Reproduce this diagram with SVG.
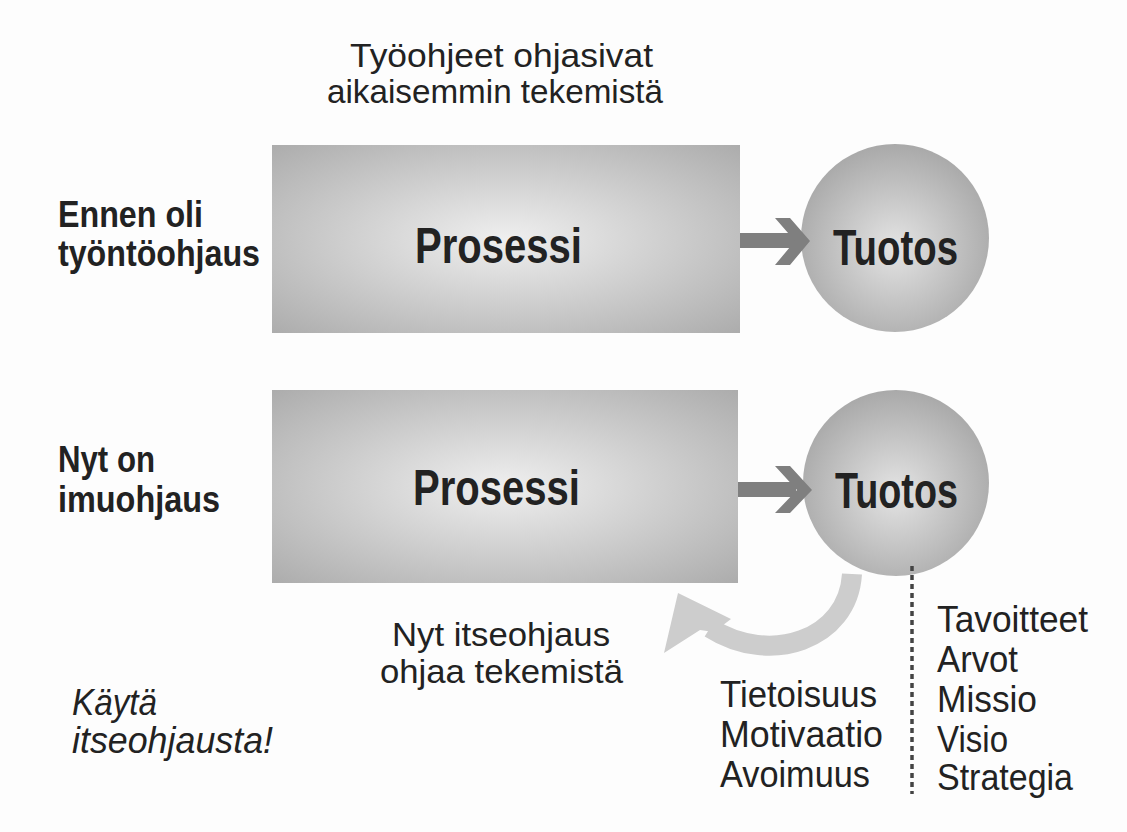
<svg xmlns="http://www.w3.org/2000/svg" width="1127" height="832" viewBox="0 0 1127 832">
<style>
.t{font-family:"Liberation Sans Narrow","Liberation Sans",Arial,sans-serif;fill:#222;}
.reg{font-size:37px;}
.reg2{font-size:34px;}
.reg3{font-size:33px;}
.bold{font-size:37px;font-weight:bold;}
.big{font-size:50px;font-weight:bold;}
.it{font-size:36px;font-style:italic;}
.conn{fill:#7f7f7f;}
.loop{fill:#cdcdcd;}
</style>
<defs>
<radialGradient id="gRect2" cx="0.5" cy="0.5" r="0.75">
<stop offset="0" stop-color="#efefef"/>
<stop offset="1" stop-color="#a8a8a8"/>
</radialGradient>
<radialGradient id="gCirc" cx="0.5" cy="0.55" r="0.55">
<stop offset="0" stop-color="#e4e4e4"/>
<stop offset="1" stop-color="#a9a9a9"/>
</radialGradient>
</defs>
<rect x="0" y="0" width="1127" height="832" fill="#fdfdfd"/>

<g id="title">
<text class="t reg2" x="350" y="67" textLength="303" lengthAdjust="spacingAndGlyphs">Työohjeet ohjasivat</text>
<text class="t reg2" x="327" y="103" textLength="336" lengthAdjust="spacingAndGlyphs">aikaisemmin tekemistä</text>
</g>

<g id="label-ennen">
<text class="t bold" x="58" y="227" textLength="145" lengthAdjust="spacingAndGlyphs">Ennen oli</text>
<text class="t bold" x="58" y="266" textLength="202" lengthAdjust="spacingAndGlyphs">työntöohjaus</text>
</g>

<g id="label-nyt">
<text class="t bold" x="58" y="472" textLength="97" lengthAdjust="spacingAndGlyphs">Nyt on</text>
<text class="t bold" x="58" y="512" textLength="162" lengthAdjust="spacingAndGlyphs">imuohjaus</text>
</g>

<g id="process-top">
<rect x="272" y="145" width="468" height="188" fill="url(#gRect2)"/>
<text class="t big" x="415" y="263" textLength="167" lengthAdjust="spacingAndGlyphs">Prosessi</text>
</g>

<g id="output-top">
<circle cx="895" cy="238" r="94" fill="url(#gCirc)"/>
<text class="t big" x="833" y="265" textLength="125" lengthAdjust="spacingAndGlyphs">Tuotos</text>
</g>

<g id="process-bottom">
<rect x="272" y="390" width="466" height="193" fill="url(#gRect2)"/>
<text class="t big" x="413" y="505" textLength="167" lengthAdjust="spacingAndGlyphs">Prosessi</text>
</g>

<g id="output-bottom">
<circle cx="896" cy="483" r="93" fill="url(#gCirc)"/>
<text class="t big" x="835" y="508" textLength="123" lengthAdjust="spacingAndGlyphs">Tuotos</text>
</g>

<g id="connectors">
<rect class="conn" x="740" y="233" width="56" height="15"/>
<polygon class="conn" points="775,218 790,218 810,241 790,265 775,265 795,241"/>
<rect class="conn" x="738" y="482" width="58" height="15"/>
<polygon class="conn" points="775,466 790,466 812,490 790,513 775,513 797,490"/>
<path d="M 852 574 C 848 640 770 666 710 628" fill="none" stroke="#cdcdcd" stroke-width="20"/>
<polygon class="loop" points="678,593 731,619 714,632 700,630 664,653"/>
<line x1="912" y1="566" x2="912" y2="794" stroke="#444" stroke-width="3.5" stroke-dasharray="5 4"/>
</g>

<g id="note-self">
<text class="t reg3" x="392" y="646" textLength="218" lengthAdjust="spacingAndGlyphs">Nyt itseohjaus</text>
<text class="t reg3" x="380" y="683" textLength="243" lengthAdjust="spacingAndGlyphs">ohjaa tekemistä</text>
</g>

<g id="list-left">
<text class="t reg" x="720" y="707" textLength="157" lengthAdjust="spacingAndGlyphs">Tietoisuus</text>
<text class="t reg" x="720" y="747" textLength="163" lengthAdjust="spacingAndGlyphs">Motivaatio</text>
<text class="t reg" x="720" y="787" textLength="150" lengthAdjust="spacingAndGlyphs">Avoimuus</text>
</g>

<g id="list-right">
<text class="t reg" x="937" y="632" textLength="151" lengthAdjust="spacingAndGlyphs">Tavoitteet</text>
<text class="t reg" x="937" y="672" textLength="81" lengthAdjust="spacingAndGlyphs">Arvot</text>
<text class="t reg" x="937" y="712" textLength="100" lengthAdjust="spacingAndGlyphs">Missio</text>
<text class="t reg" x="937" y="752" textLength="71" lengthAdjust="spacingAndGlyphs">Visio</text>
<text class="t reg" x="937" y="790" textLength="136" lengthAdjust="spacingAndGlyphs">Strategia</text>
</g>

<g id="motto">
<text class="t it" x="72" y="715" textLength="85" lengthAdjust="spacingAndGlyphs">Käytä</text>
<text class="t it" x="72" y="753" textLength="201" lengthAdjust="spacingAndGlyphs">itseohjausta!</text>
</g>
</svg>
